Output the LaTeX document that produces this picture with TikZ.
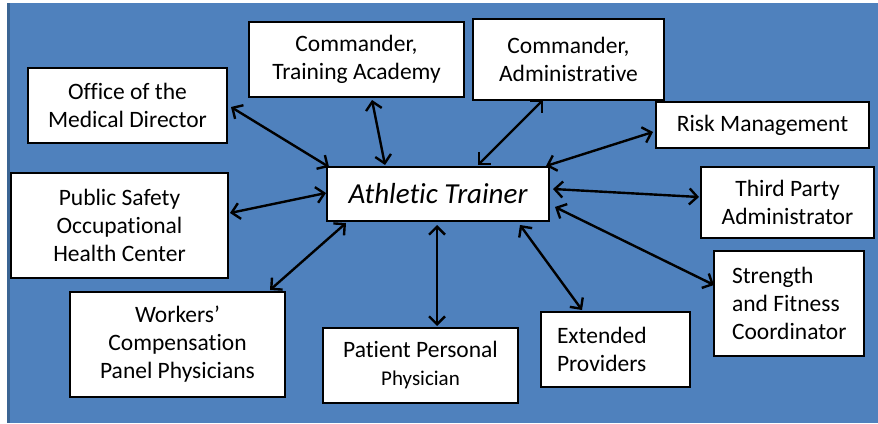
\documentclass[tikz,border=0pt]{standalone}
\usepackage{fontspec}
\setmainfont{Carlito}[Ligatures={NoCommon,NoRequired,NoContextual}]
\usetikzlibrary{arrows.meta,calc}
\definecolor{bgblue}{HTML}{4F81BD}
\definecolor{edgeblue}{HTML}{3B6594}
\begin{document}
\begin{tikzpicture}[x=1pt,y=-1pt,
  box/.style={draw=black,line width=2pt,fill=white,inner sep=0pt,align=center,
    font=\fontsize{23.5}{28}\selectfont},
  link/.style={line width=2.4pt,{Straight Barb[length=8pt,width=16pt]}-{Straight Barb[length=8pt,width=16pt]}}]
\useasboundingbox (0,0) rectangle (878,423);
\fill[white] (0,0) rectangle (878,423);
\fill[bgblue] (8,3) rectangle (878,423);
\fill[edgeblue] (7,3) rectangle (9.5,423);

\node[box,minimum width=199pt,minimum height=75pt] (office) at (127.5,105.5) {Office of the\\Medical Director};
\node[box,minimum width=215pt,minimum height=75pt] (training) at (356.5,59.5) {Commander,\\Training Academy};
\node[box,minimum width=191pt,minimum height=81pt] (admin) at (568.5,59.5) {Commander,\\Administrative};
\node[box,minimum width=213pt,minimum height=46pt] (risk) at (762.5,125) {Risk Management};
\node[box,minimum width=173pt,minimum height=71pt] (third) at (787.5,202.5) {Third Party\\Administrator};
\node[box,minimum width=150pt,minimum height=105pt,align=flush left,text width=114pt,inner xsep=18pt] (strength) at (789,303.5) {Strength\\and Fitness\\Coordinator};
\node[box,minimum width=149pt,minimum height=75pt,align=flush left,text width=117pt,inner xsep=16pt] (extended) at (615.5,349.5) {Extended\\Providers};
\node[box,minimum width=195pt,minimum height=75pt] (patient) at (420.5,365.5) {Patient Personal\\{\fontsize{21}{26}\selectfont Physician}};
\node[box,minimum width=215pt,minimum height=105pt] (workers) at (177.5,344.5) {Workers’\\Compensation\\Panel Physicians};
\node[box,minimum width=217pt,minimum height=105pt] (public) at (119.5,225.5) {Public Safety\\Occupational\\Health Center};
\node[box,minimum width=222pt,minimum height=54pt,font=\fontsize{29}{32}\selectfont\itshape] (at) at (438,194) {Athletic Trainer};

\draw[link] ($(office.east)+(3,1.5)$) -- ($(at.north west)+(3,1)$);
\draw[link] ($(training.south)+(15.5,2)$) -- ($(at.north)+(-53,-1)$);
\draw[link] ($(admin.south)+(-25.5,-1)$) -- ($(at.north)+(40,-1)$);
\draw[link] ($(risk.west)+(-2,7)$) -- ($(at.north east)+(-4,0)$);
\draw[link] ($(third.west)+(-1,-5.5)$) -- ($(at.east)+(3,-5)$);
\draw[link] ($(strength.west)+(1,-18.5)$) -- ($(at.east)+(5,13)$);
\draw[link] ($(extended.north)+(-33.5,-1)$) -- ($(at.south)+(82,3)$);
\draw[link] ($(patient.north)+(16.5,-1)$) -- ($(at.south)+(-1,3)$);
\draw[link] ($(workers.north)+(92.5,-1)$) -- ($(at.south west)+(20,1)$);
\draw[link] ($(public.east)+(1,-12.5)$) -- ($(at.west)+(0,-1)$);
\end{tikzpicture}
\end{document}
